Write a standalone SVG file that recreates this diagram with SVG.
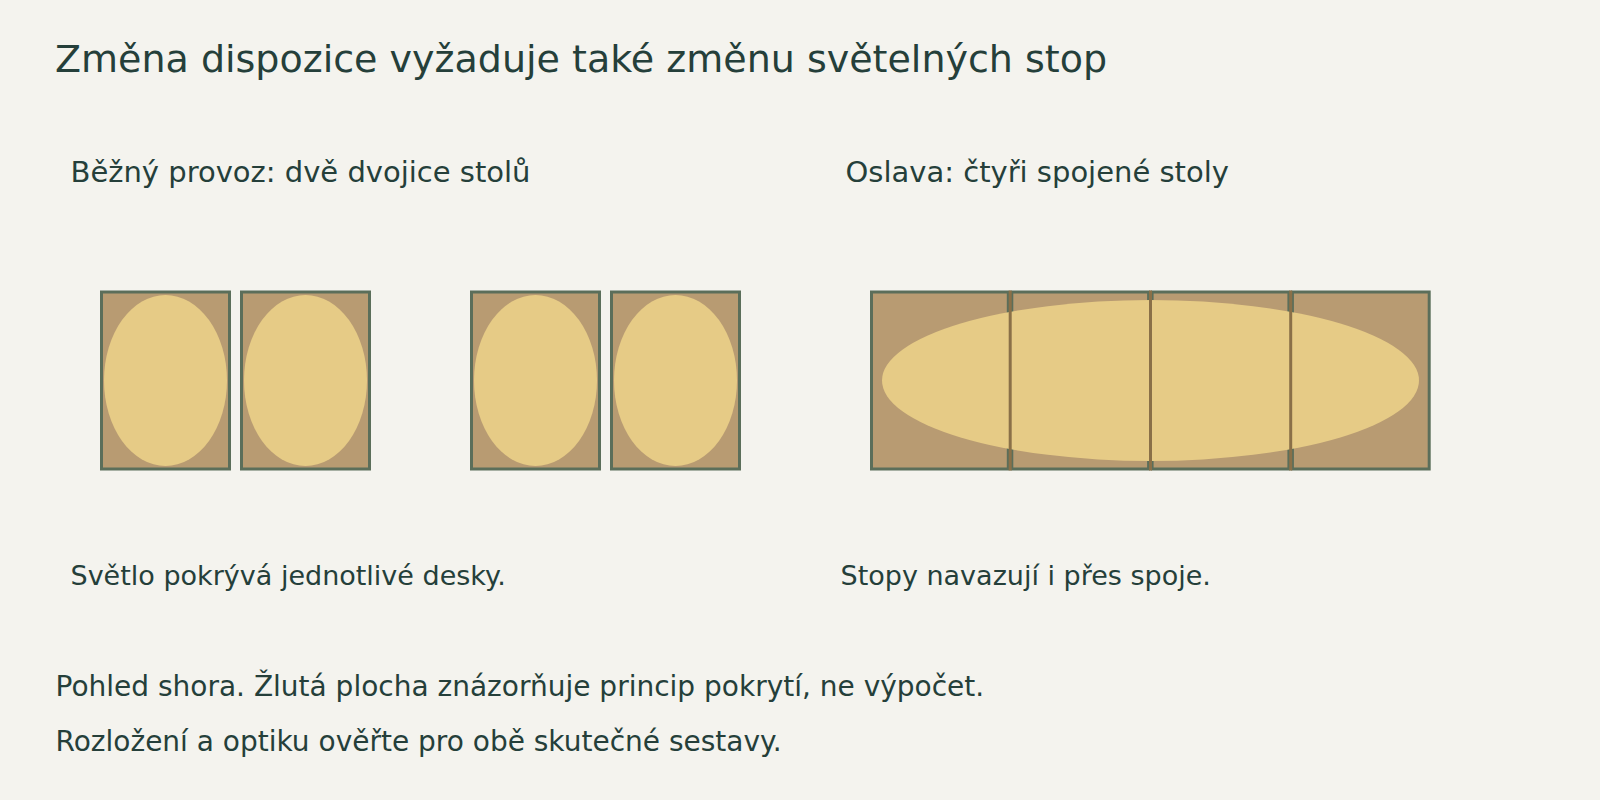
<svg xmlns="http://www.w3.org/2000/svg" width="1600" height="800" viewBox="0 0 1600 800">
<style>
.t{font-family:"DejaVu Sans",sans-serif;fill:#253f3a}
.title{font-size:38px}
.sub{font-size:29px}
.cap{font-size:27px}
.foot{font-size:28px}
.table{fill:#b89b72;stroke:#5b6e5a;stroke-width:3}
.light{fill:#e6cb86}
.seam{stroke:#8a7048;stroke-width:3}
</style>
<rect width="1600" height="800" fill="#f4f3ee"/>
<text class="t title" x="55" y="71.5">Změna dispozice vyžaduje také změnu světelných stop</text>
<text class="t sub" x="70.5" y="182">Běžný provoz: dvě dvojice stolů</text>
<text class="t sub" x="845.5" y="182">Oslava: čtyři spojené stoly</text>
<g id="table-1"><rect class="table" x="101.5" y="292" width="128" height="177"/><ellipse class="light" cx="165.5" cy="380.5" rx="61.5" ry="85.5"/></g>
<g id="table-2"><rect class="table" x="241.5" y="292" width="128" height="177"/><ellipse class="light" cx="305.5" cy="380.5" rx="61.5" ry="85.5"/></g>
<g id="table-3"><rect class="table" x="471.5" y="292" width="128" height="177"/><ellipse class="light" cx="535.5" cy="380.5" rx="61.5" ry="85.5"/></g>
<g id="table-4"><rect class="table" x="611.5" y="292" width="128" height="177"/><ellipse class="light" cx="675.5" cy="380.5" rx="61.5" ry="85.5"/></g>
<g id="joined-tables">
<rect class="table" x="871.5" y="292" width="136.8" height="177"/>
<rect class="table" x="1011.8" y="292" width="136.8" height="177"/>
<rect class="table" x="1152.1" y="292" width="136.8" height="177"/>
<rect class="table" x="1292.4" y="292" width="136.8" height="177"/>
<ellipse class="light" cx="1150.5" cy="380.5" rx="268.5" ry="80.5"/>
<line class="seam" x1="1010.2" y1="290.5" x2="1010.2" y2="470.5"/>
<line class="seam" x1="1150.5" y1="290.5" x2="1150.5" y2="470.5"/>
<line class="seam" x1="1290.7" y1="290.5" x2="1290.7" y2="470.5"/>
</g>
<text class="t cap" x="70.5" y="585">Světlo pokrývá jednotlivé desky.</text>
<text class="t cap" x="840.5" y="585">Stopy navazují i přes spoje.</text>
<text class="t foot" x="55.5" y="696">Pohled shora. Žlutá plocha znázorňuje princip pokrytí, ne výpočet.</text>
<text class="t foot" x="55.5" y="751">Rozložení a optiku ověřte pro obě skutečné sestavy.</text>
</svg>
